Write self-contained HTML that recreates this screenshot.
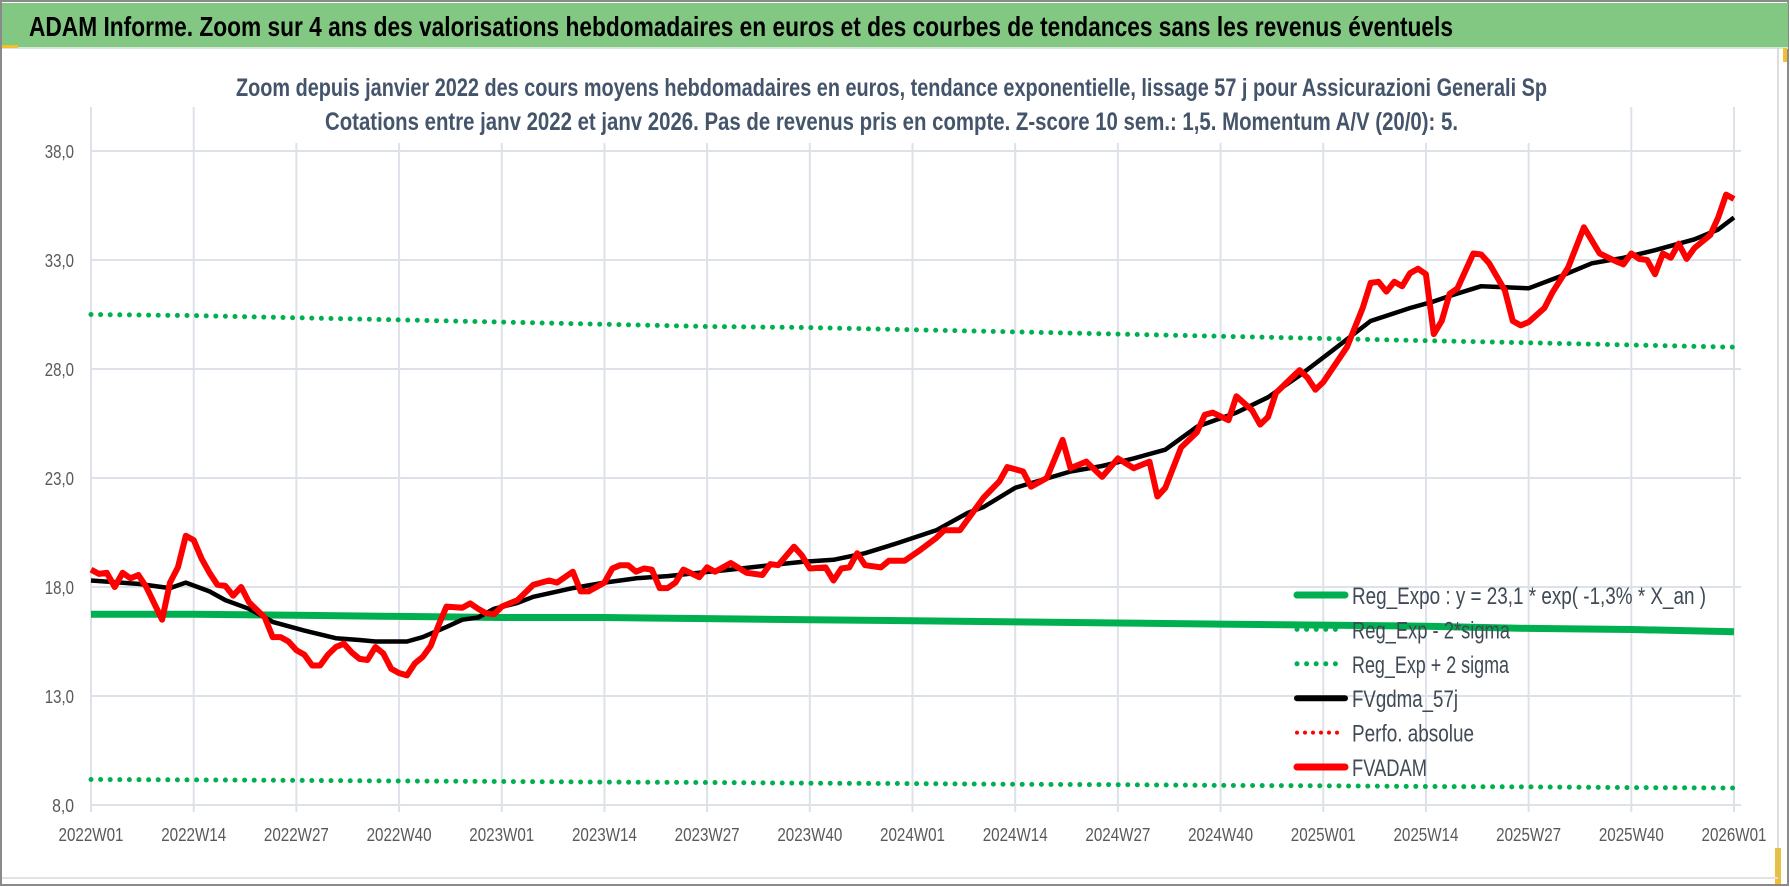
<!DOCTYPE html>
<html><head><meta charset="utf-8"><style>
html,body{margin:0;padding:0;background:#fff;}
svg{display:block;font-family:"Liberation Sans",sans-serif;}
</style></head><body>
<svg id="chart" width="1790" height="887" viewBox="0 0 1790 887" xmlns="http://www.w3.org/2000/svg">
<rect x="0" y="0" width="1790" height="887" fill="#fff"/>
<rect x="1" y="1" width="1787" height="884" fill="none" stroke="#8a8a8a" stroke-width="2"/>
<rect x="2" y="3" width="1786" height="44" fill="#82c882"/>
<line x1="2" y1="48" x2="1788" y2="48" stroke="#d8e8d8" stroke-width="2"/>
<rect x="2" y="45" width="16" height="3" fill="#f2c02a"/>
<rect x="1783" y="48" width="4" height="14" fill="#f2c02a"/>
<rect x="1775" y="848" width="6" height="36" fill="#f2c02a"/>
<line x1="1778" y1="48" x2="1778" y2="880" stroke="#bbbbbb" stroke-width="1"/>
<line x1="2" y1="878" x2="1778" y2="878" stroke="#e2e2e2" stroke-width="2"/>
<text x="29" y="36" font-size="28" font-weight="bold" fill="#000" textLength="1424" lengthAdjust="spacingAndGlyphs">ADAM Informe. Zoom sur 4 ans des valorisations hebdomadaires en euros et des courbes de tendances sans les revenus éventuels</text>
<g id="grid"></g>
<rect x="230" y="60" width="1330" height="83" fill="#fff"/>
<text x="236" y="96" font-size="25" font-weight="bold" fill="#44546a" textLength="1311" lengthAdjust="spacingAndGlyphs">Zoom depuis janvier 2022 des cours moyens hebdomadaires en euros, tendance exponentielle, lissage 57 j pour Assicurazioni Generali Sp</text>
<text x="325" y="130" font-size="25" font-weight="bold" fill="#44546a" textLength="1133" lengthAdjust="spacingAndGlyphs">Cotations entre janv 2022 et janv 2026. Pas de revenus pris en compte. Z-score 10 sem.: 1,5. Momentum A/V (20/0): 5.</text>
<g id="axes"></g>
<g id="series"></g>
<g id="legend"></g>
</svg>
<script>
// ---- data ----
const xTickLabels = ["2022W01","2022W14","2022W27","2022W40","2023W01","2023W14","2023W27","2023W40","2024W01","2024W14","2024W27","2024W40","2025W01","2025W14","2025W27","2025W40","2026W01"];
const yTickValues = [8,13,18,23,28,33,38];
const yTickLabels = ["8,0","13,0","18,0","23,0","28,0","33,0","38,0"];
// trend lines, sampled at each x tick (every 13 weeks)
const regExpoValues = [16.75,16.75,16.7,16.65,16.6,16.6,16.55,16.5,16.45,16.4,16.35,16.3,16.25,16.2,16.1,16.05,15.95];
const upperBandValues = [30.5,30.45,30.35,30.25,30.15,30.05,29.95,29.9,29.8,29.7,29.6,29.5,29.4,29.3,29.2,29.1,29.0];
const lowerBandValues = [9.17,9.15,9.13,9.1,9.08,9.05,9.03,9.0,8.98,8.95,8.93,8.9,8.88,8.85,8.83,8.8,8.78];
// moving average (week offset from 2022W01, value)
const maWeeks = [0,6,10,12,15,17,20,23,27,31,34,36,40,42,45,47,49,51,54,56,61,65,69,73,77,81,86,90,94,98,102,107,111,113,117,124,128,132,136,140,145,149,153,157,162,167,170,172,176,179,182,186,190,194,198,203,206,208];
const maValues = [18.3,18.14,17.95,18.2,17.8,17.4,17.0,16.4,16.0,15.65,15.57,15.5,15.5,15.7,16.17,16.5,16.6,17.0,17.27,17.55,17.95,18.2,18.4,18.5,18.65,18.8,19.0,19.15,19.25,19.55,20.0,20.6,21.4,21.67,22.55,23.3,23.55,23.9,24.3,25.35,26.0,26.7,27.7,28.8,30.2,30.8,31.1,31.35,31.8,31.75,31.7,32.25,32.85,33.1,33.45,33.95,34.4,34.95];
// weekly price FVADAM
const priceWeeks = [0,1,2,3,4,5,6,7,9,10,11,12,13,14,15,16,17,18,19,20,22,23,24,25,26,27,28,29,30,31,32,33,34,35,36,37,38,39,40,41,42,43,44,45,47,48,49,50,51,52,54,56,57,58,59,61,62,63,65,66,67,68,69,70,71,72,73,74,75,77,78,79,81,83,85,86,87,89,90,91,93,94,95,96,97,98,100,101,103,105,107,108,110,112,113,115,116,118,119,121,123,124,126,128,130,132,134,135,136,138,140,141,142,144,145,147,148,149,150,152,153,154,155,156,159,161,162,163,164,165,166,167,168,169,170,171,172,173,175,176,177,179,180,181,182,184,185,187,189,191,193,194,195,196,197,198,199,200,201,202,203,205,206,207,208];
const priceValues = [18.8,18.6,18.65,18.0,18.65,18.4,18.55,18.0,16.5,18.2,18.9,20.35,20.15,19.3,18.65,18.1,18.05,17.6,18.0,17.3,16.6,15.7,15.7,15.5,15.1,14.9,14.4,14.4,14.9,15.25,15.4,15.0,14.7,14.65,15.25,14.95,14.25,14.05,13.95,14.5,14.8,15.3,16.25,17.1,17.05,17.25,17.0,16.8,16.75,17.1,17.4,18.1,18.2,18.3,18.2,18.7,17.8,17.8,18.2,18.85,19.0,19.0,18.7,18.85,18.8,17.95,17.95,18.2,18.8,18.45,18.9,18.7,19.1,18.65,18.55,19.05,19.0,19.85,19.45,18.85,18.9,18.3,18.85,18.9,19.55,19.0,18.9,19.2,19.2,19.7,20.25,20.6,20.6,21.6,22.1,22.85,23.5,23.3,22.6,23.0,24.75,23.45,23.75,23.05,23.9,23.45,23.75,22.15,22.55,24.4,25.1,25.9,26.0,25.65,26.75,26.1,25.45,25.8,26.9,27.6,27.95,27.6,27.05,27.4,29.0,30.8,31.95,32.0,31.55,32.0,31.8,32.4,32.6,32.35,29.6,30.2,31.45,31.7,33.3,33.25,32.85,31.6,30.2,30.0,30.15,30.8,31.5,32.65,34.5,33.3,32.95,32.8,33.3,33.05,33.0,32.35,33.3,33.1,33.75,33.05,33.55,34.15,34.95,36.0,35.8];
const legendLabels = ["Reg_Expo : y = 23,1 * exp( -1,3% *  X_an )","Reg_Exp - 2*sigma","Reg_Exp + 2 sigma","FVgdma_57j","Perfo. absolue","FVADAM"];

// ---- axes ----
const NS = "http://www.w3.org/2000/svg";
const X0 = 91, X1 = 1734, WEEKS = 208;
const Y0 = 805, YMIN = 8, YMAX = 38, YTOP = 151;
function xScale(w){ return X0 + (X1 - X0) * w / WEEKS; }
function yScale(v){ return Y0 - (Y0 - YTOP) * (v - YMIN) / (YMAX - YMIN); }
function mk(tag, attrs, parent){ const e = document.createElementNS(NS, tag); for (const k in attrs) e.setAttribute(k, attrs[k]); parent.appendChild(e); return e; }

const grid = document.getElementById('grid');
const axes = document.getElementById('axes');
const series = document.getElementById('series');
const legend = document.getElementById('legend');

yTickValues.forEach((v, i) => {
  const y = yScale(v);
  const l = mk('line', {x1: X0, x2: 1741, y1: y, y2: y, stroke: '#dde1e8', 'stroke-width': 2}, grid);
  
  
  const lab = yTickLabels[i];
  const t = mk('text', {x: 74, y: y + 7, 'font-size': 18, fill: '#595959', 'text-anchor': 'end', textLength: lab.length * 7.3, lengthAdjust: 'spacingAndGlyphs'}, axes);
  t.textContent = lab;
  
  
});
xTickLabels.forEach((lab, i) => {
  const x = xScale(i * 13);
  const l = mk('line', {x1: x, x2: x, y1: 107, y2: 812, stroke: '#dde1e8', 'stroke-width': 2}, grid);
  
  
  const t = mk('text', {x: x, y: 841, 'font-size': 18, fill: '#595959', 'text-anchor': 'middle', textLength: 65, lengthAdjust: 'spacingAndGlyphs'}, axes);
  t.textContent = lab;
  
  
});

function poly(weeks, vals, attrs, name){
  const pts = weeks.map((w, i) => xScale(w).toFixed(1) + ',' + yScale(vals[i]).toFixed(1)).join(' ');
  const p = mk('polyline', Object.assign({points: pts, fill: 'none', 'stroke-linejoin': 'round'}, attrs), series);
  
  
}
const tickWeeks = xTickLabels.map((_, i) => i * 13);
poly(tickWeeks, upperBandValues, {stroke: '#00b050', 'stroke-width': 5, 'stroke-linecap': 'round', 'stroke-dasharray': '0 9.6'}, 'upper-band-line');
poly(tickWeeks, lowerBandValues, {stroke: '#00b050', 'stroke-width': 5, 'stroke-linecap': 'round', 'stroke-dasharray': '0 9.6'}, 'lower-band-line');
poly(tickWeeks, regExpoValues, {stroke: '#00b050', 'stroke-width': 7}, 'reg-expo-line');
poly(maWeeks, maValues, {stroke: '#000', 'stroke-width': 4.5}, 'moving-average-line');
poly(priceWeeks, priceValues, {stroke: '#ff0000', 'stroke-width': 6}, 'price-line');

// ---- legend ----
const legStyles = [
  {stroke: '#00b050', w: 7, dash: null},
  {stroke: '#00b050', w: 5, dash: '0 9.6'},
  {stroke: '#00b050', w: 5, dash: '0 9.6'},
  {stroke: '#000000', w: 6, dash: null},
  {stroke: '#ff0000', w: 4, dash: '0 8'},
  {stroke: '#ff0000', w: 7, dash: null}
];
const legWidths = [354, 158, 157, 106, 122, 75];
legendLabels.forEach((lab, i) => {
  const y = 595 + i * 34.4;
  const s = legStyles[i];
  const a = {x1: 1297, x2: 1345, y1: y, y2: y, stroke: s.stroke, 'stroke-width': s.w, 'stroke-linecap': 'round'};
  if (s.dash) a['stroke-dasharray'] = s.dash;
  const l = mk('line', a, legend);
  
  
  const t = mk('text', {x: 1352, y: y + 9, 'font-size': 24, fill: '#404a56', textLength: legWidths[i], lengthAdjust: 'spacingAndGlyphs'}, legend);
  t.textContent = lab;
  
  
});
</script>
</body></html>
